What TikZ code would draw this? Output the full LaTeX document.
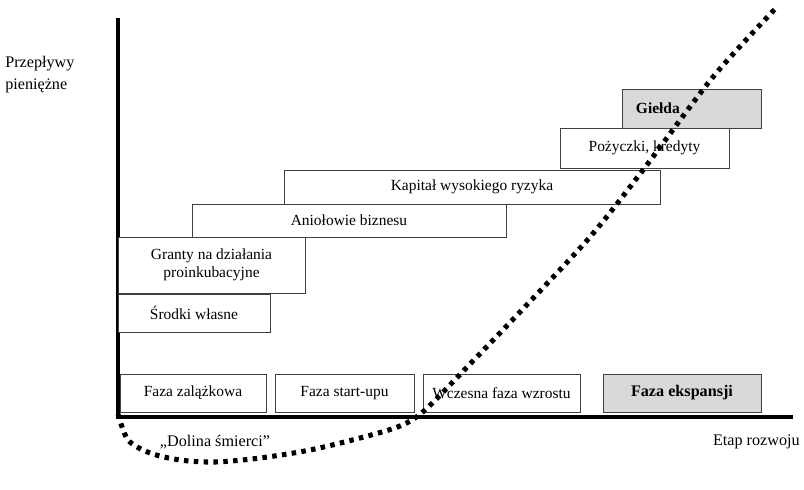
\documentclass[tikz,border=0pt]{standalone}
\usepackage{fontspec}
\setmainfont{Liberation Serif}
\usepackage{xcolor}

\definecolor{boxgrey}{RGB}{217,217,217}

\begin{document}
\begin{tikzpicture}[x=0.025cm, y=-0.025cm]
        \useasboundingbox (0,0) rectangle (804,489);

        \coordinate (Y) at (118,18);
        \coordinate (O) at (118,414);
        \coordinate (X) at (793,417);

        \draw[line width=2.6pt] (Y) |- (X);

        \begin{scope}[every node/.style = {rectangle, draw=black!75, line width=0.6pt, fill=white,
                        font=\fontsize{11}{13}\selectfont, minimum height=0.95cm}]
            \node[minimum width=3.8cm] (A) at (194,313) {Środki własne};
            \node[minimum width=4.675cm, minimum height=1.4cm, align=center] (B) at (211.5,265)
                {Granty na działania\\proinkubacyjne};
            \node[minimum width=7.85cm, minimum height=0.825cm] (C) at (349,220.5) {Aniołowie biznesu};
            \node[minimum width=9.4cm, minimum height=0.85cm] (D) at (472,187) {Kapitał wysokiego ryzyka};
            \node[minimum width=4.225cm, minimum height=1cm] (E) at (644.5,148) {Pożyczki, kredyty};
            \node[fill=boxgrey, minimum height=0.975cm, text width=2.775cm, inner xsep=0.35cm,
                align=left, font=\fontsize{11}{13}\selectfont\bfseries] (F) at (691.5,108.5) {Giełda};

            \node[minimum width=3.65cm] (G) at (193,393) {Faza zalążkowa};
            \node[minimum width=3.475cm] (H) at (344.5,393) {Faza start-upu};
            \node[minimum width=3.925cm] (I) at (501.5,393) {Wczesna faza wzrostu};
            \node[fill=boxgrey, minimum width=3.95cm, font=\fontsize{11.5}{13}\selectfont\bfseries]
                (J) at (682,393) {Faza ekspansji};
        \end{scope}

        \begin{scope}[every node/.style={inner sep=0pt, font=\fontsize{11.5}{15.5}\selectfont}]
            \node[anchor=north west, align=left] (K) at (5,56) {Przepływy\\pieniężne};
            \node (L) at (215,442) {„Dolina śmierci”};
            \node[anchor=east] (M) at (800,442) {Etap rozwoju};
        \end{scope}

        \draw[line width=3.6pt, dash pattern=on 3.2pt off 3.8pt] plot[smooth] coordinates
            {(O) (128,440) (150,453) (180,460) (215,462) (260,458) (310,450) (360,438)
             (400,426) (425,410) (470,364) (520,312) (590,237) (643,170) (713,77) (776,8)};
    \end{tikzpicture}
\end{document}
